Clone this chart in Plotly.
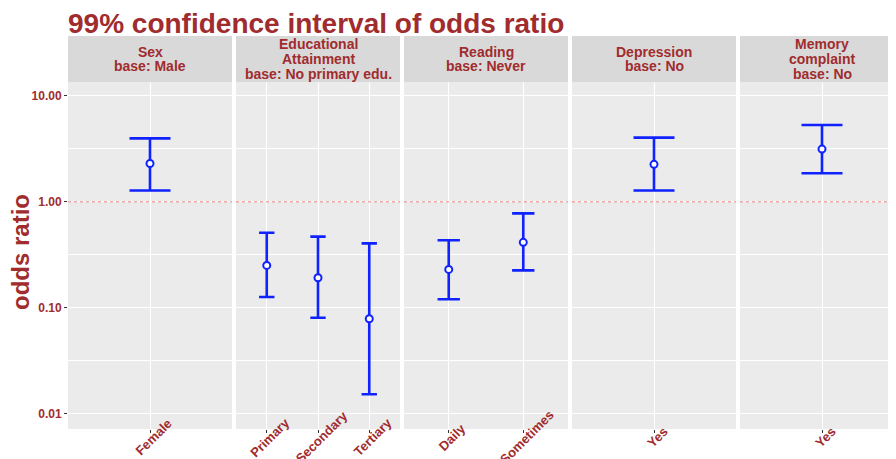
import plotly.graph_objects as go

# ---------------- data ----------------
strip_sex = ["Sex", "base: Male"]
strip_edu = ["Educational", "Attainment", "base: No primary edu."]
strip_read = ["Reading", "base: Never"]
strip_dep = ["Depression", "base: No"]
strip_mem = ["Memory", "complaint", "base: No"]

cats_sex = ["Female"]
or_sex = [2.30]
lo_sex = [1.28]
hi_sex = [3.98]

cats_edu = ["Primary", "Secondary", "Tertiary"]
or_edu = [0.251, 0.192, 0.0787]
lo_edu = [0.126, 0.0803, 0.0152]
hi_edu = [0.511, 0.469, 0.405]

cats_read = ["Daily", "Sometimes"]
or_read = [0.230, 0.414]
lo_read = [0.120, 0.225]
hi_read = [0.433, 0.778]

cats_dep = ["Yes"]
or_dep = [2.26]
lo_dep = [1.28]
hi_dep = [4.04]

cats_mem = ["Yes"]
or_mem = [3.15]
lo_mem = [1.86]
hi_mem = [5.32]

y_tickvals = [0.01, 0.1, 1, 10]
y_ticktext = ["0.01", "0.10", "1.00", "10.00"]
y_minorvals = [10 ** -1.5, 10 ** -0.5, 10 ** 0.5]
reference_line = 1.0

title_text = "99% confidence interval of odds ratio"
y_title = "odds ratio"

panels = [
    (strip_sex, cats_sex, or_sex, lo_sex, hi_sex),
    (strip_edu, cats_edu, or_edu, lo_edu, hi_edu),
    (strip_read, cats_read, or_read, lo_read, hi_read),
    (strip_dep, cats_dep, or_dep, lo_dep, hi_dep),
    (strip_mem, cats_mem, or_mem, lo_mem, hi_mem),
]

# ---------------- style / layout ----------------
# The page body adds an 8px margin, so the figure is built 8px smaller and
# all reference pixel positions are shifted by OFF.
OFF = 8
W, H = 896 - OFF, 459 - OFF
L, R = 68 - OFF, 0
T = 36 - OFF
B = H - (429 - OFF)
PW, PH = W - L - R, H - T - B
FONT = "Liberation Sans, Arial, sans-serif"
TXT = "#A02C2E"
BLUE = "#0F22FF"
PANEL_BG = "#EBEBEB"
STRIP_BG = "#D9D9D9"
PANEL_W, GAP = 164, 4
STRIP_TOP, PANEL_TOP = 36, 82
CAP = 0.3  # cap width in category units
Y_RANGE = [-2.146, 1.132]


def pxx(px):
    """reference x pixel -> paper fraction"""
    return (px - OFF - L) / PW


def pxy(py):
    """reference y pixel -> paper fraction"""
    return (H - B - (py - OFF)) / PH


fig = go.Figure()
shapes = []
annotations = []
ydom_top = pxy(PANEL_TOP)

for i, (strip, cats, ors, los, his) in enumerate(panels):
    n = len(cats)
    x0 = 68 + i * (PANEL_W + GAP)
    x1 = min(x0 + PANEL_W, 896)
    full_span = n + 0.2
    ppu = PANEL_W / full_span
    r0 = -0.6
    r1 = -0.6 + full_span * (x1 - x0) / PANEL_W
    sfx = "" if i == 0 else str(i + 1)
    xa, ya = "x" + sfx, "y" + sfx

    fig.add_trace(go.Scatter(
        x=cats, y=ors, mode="markers", xaxis=xa, yaxis=ya, showlegend=False,
        marker=dict(symbol="circle", size=7, color="white",
                    line=dict(color=BLUE, width=2)),
        error_y=dict(type="data", symmetric=False,
                     array=[h - o for h, o in zip(his, ors)],
                     arrayminus=[o - l for o, l in zip(ors, los)],
                     color=BLUE, thickness=2.6, width=CAP * ppu / 2),
    ))

    fig.layout["xaxis" + sfx] = dict(
        domain=[pxx(x0), min(pxx(x1), 1)], anchor=ya, type="category",
        categoryorder="array", categoryarray=cats, range=[r0, r1],
        showgrid=True, gridcolor="white", gridwidth=1.2,
        ticks="outside", ticklen=3, tickcolor="#333333", tickwidth=1,
        showticklabels=False, zeroline=False, showline=False, fixedrange=True,
    )
    yax = dict(
        domain=[0, ydom_top], anchor=xa, type="log", range=Y_RANGE,
        tickmode="array", tickvals=y_tickvals, ticktext=y_ticktext,
        showgrid=True, gridcolor="white", gridwidth=1.2,
        minor=dict(tickvals=y_minorvals, showgrid=True, gridcolor="white",
                   gridwidth=0.6, ticks=""),
        zeroline=False, showline=False, fixedrange=True,
    )
    if i == 0:
        yax.update(ticks="outside", ticklen=3, tickcolor="#333333", tickwidth=1,
                   showticklabels=True,
                   tickfont=dict(family=FONT, size=12, color=TXT, weight="bold"))
    else:
        yax.update(matches="y", ticks="", showticklabels=False)
    fig.layout["yaxis" + sfx] = yax

    # reference line at odds ratio 1
    shapes.append(dict(type="line", xref=xa + " domain", x0=0, x1=1,
                       yref=ya, y0=reference_line, y1=reference_line,
                       line=dict(color="#F08080", width=1, dash="dot"),
                       layer="above"))

    # strip
    shapes.append(dict(type="rect", xref="paper", yref="paper",
                       x0=pxx(x0), x1=min(pxx(x1), 1), y0=pxy(PANEL_TOP),
                       y1=pxy(STRIP_TOP),
                       fillcolor=STRIP_BG, line=dict(width=0), layer="below"))
    nl = len(strip)
    cx = x0 + PANEL_W / 2
    mid = (STRIP_TOP + PANEL_TOP) / 2
    sp = 14.7
    for k, line in enumerate(strip):
        cy = mid + (k - (nl - 1) / 2) * sp
        annotations.append(dict(
            text=line, xref="paper", yref="paper", x=pxx(cx), y=pxy(cy),
            xanchor="center", yanchor="middle", showarrow=False,
            font=dict(family=FONT, size=14, color=TXT, weight="bold")))

    # rotated category labels
    for j, c in enumerate(cats):
        annotations.append(dict(
            text=c, xref=xa, yref="paper", x=j, y=pxy(437), xshift=3,
            xanchor="center", yanchor="middle", showarrow=False, textangle=-45,
            font=dict(family=FONT, size=13, color=TXT, weight="bold")))

annotations.append(dict(
    text=y_title, xref="paper", yref="paper", x=pxx(20), y=pxy(252),
    xanchor="center", yanchor="middle", showarrow=False, textangle=-90,
    font=dict(family=FONT, size=24, color=TXT, weight="bold")))

fig.update_layout(
    width=W, height=H,
    margin=dict(l=L, r=R, t=T, b=B, autoexpand=False),
    paper_bgcolor="white", plot_bgcolor=PANEL_BG,
    title=dict(text=title_text, x=pxx(68), xref="paper", xanchor="left",
               y=1 - (23 - OFF) / H, yref="container", yanchor="middle",
               font=dict(family=FONT, size=28, color=TXT, weight="bold")),
    shapes=shapes, annotations=annotations, showlegend=False,
)

fig.write_html("out.html")
